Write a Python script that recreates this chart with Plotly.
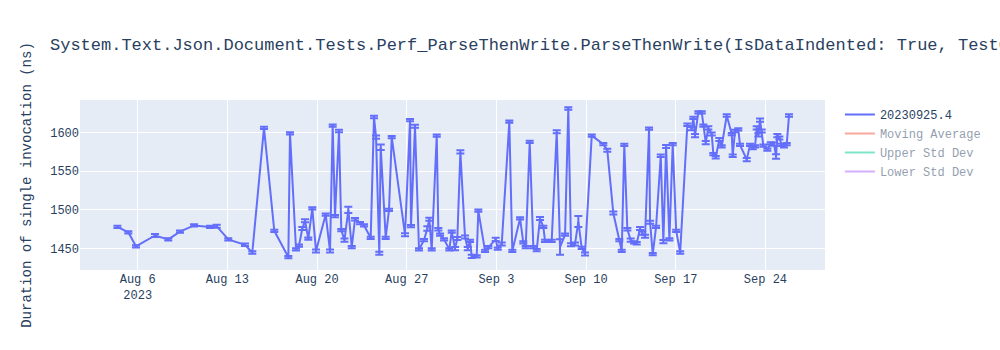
import pandas as pd
import plotly.graph_objects as go

# Benchmark run timestamps (one per measured commit)
run_times = [
    "2023-08-04 10:00", "2023-08-05 06:24", "2023-08-05 20:48", "2023-08-07 08:24", "2023-08-08 09:18",
    "2023-08-09 07:12", "2023-08-10 09:30", "2023-08-11 15:30", "2023-08-12 04:00", "2023-08-13 01:42",
    "2023-08-14 09:00", "2023-08-14 22:42", "2023-08-15 20:36", "2023-08-16 15:54", "2023-08-17 18:12",
    "2023-08-17 21:18", "2023-08-18 08:36", "2023-08-18 14:12", "2023-08-18 20:24", "2023-08-19 01:24",
    "2023-08-19 07:36", "2023-08-19 15:06", "2023-08-19 22:00", "2023-08-20 16:12", "2023-08-21 00:18",
    "2023-08-21 05:18", "2023-08-21 09:36", "2023-08-21 17:06", "2023-08-21 21:24", "2023-08-22 03:24",
    "2023-08-22 10:36", "2023-08-22 17:00", "2023-08-22 23:06", "2023-08-23 08:30", "2023-08-23 16:00",
    "2023-08-24 04:30", "2023-08-24 10:42", "2023-08-24 14:30", "2023-08-24 20:36", "2023-08-24 23:18",
    "2023-08-25 08:36", "2023-08-25 14:48", "2023-08-25 19:54", "2023-08-26 20:48", "2023-08-27 06:12",
    "2023-08-27 08:00", "2023-08-27 15:30", "2023-08-27 23:00", "2023-08-28 08:24", "2023-08-28 14:36",
    "2023-08-28 18:18", "2023-08-28 22:48", "2023-08-29 08:12", "2023-08-29 11:12", "2023-08-29 14:24",
    "2023-08-29 21:54", "2023-08-30 07:48", "2023-08-30 12:18", "2023-08-30 18:30", "2023-08-30 22:48",
    "2023-08-31 04:30", "2023-08-31 13:12", "2023-08-31 18:18", "2023-08-31 22:36", "2023-09-01 01:48",
    "2023-09-01 11:06", "2023-09-01 14:06", "2023-09-02 02:42", "2023-09-02 08:54", "2023-09-02 22:42",
    "2023-09-03 02:30", "2023-09-03 10:00", "2023-09-04 00:12", "2023-09-04 05:48", "2023-09-04 20:18",
    "2023-09-05 02:24", "2023-09-05 06:54", "2023-09-05 14:24", "2023-09-05 21:12", "2023-09-06 03:30",
    "2023-09-06 09:42", "2023-09-06 15:54", "2023-09-06 19:06", "2023-09-07 07:36", "2023-09-07 17:00",
    "2023-09-07 23:12", "2023-09-08 08:36", "2023-09-08 14:42", "2023-09-08 19:48", "2023-09-09 03:18",
    "2023-09-09 09:30", "2023-09-09 15:48", "2023-09-09 22:00", "2023-09-10 10:36", "2023-09-11 08:18",
    "2023-09-11 15:48", "2023-09-12 03:00", "2023-09-12 14:18", "2023-09-12 18:48", "2023-09-12 23:36",
    "2023-09-13 05:18", "2023-09-13 11:36", "2023-09-13 17:48", "2023-09-13 22:54", "2023-09-14 05:06",
    "2023-09-14 09:24", "2023-09-14 14:30", "2023-09-14 22:00", "2023-09-14 23:54", "2023-09-15 04:54",
    "2023-09-15 11:06", "2023-09-15 19:54", "2023-09-16 00:48", "2023-09-16 05:54", "2023-09-16 12:06",
    "2023-09-16 18:18", "2023-09-17 00:48", "2023-09-17 08:18", "2023-09-17 21:42", "2023-09-18 05:54",
    "2023-09-18 08:54", "2023-09-18 12:06", "2023-09-18 18:18", "2023-09-19 00:42", "2023-09-19 03:42",
    "2023-09-19 08:12", "2023-09-19 13:00", "2023-09-19 19:24", "2023-09-19 22:24", "2023-09-20 02:54",
    "2023-09-20 09:36", "2023-09-20 14:06", "2023-09-20 23:30", "2023-09-21 08:54", "2023-09-21 10:42",
    "2023-09-21 15:00", "2023-09-21 21:12", "2023-09-22 00:24", "2023-09-22 13:00", "2023-09-22 19:06",
    "2023-09-23 00:12", "2023-09-23 04:30", "2023-09-23 07:42", "2023-09-23 10:42", "2023-09-23 13:54",
    "2023-09-23 17:06", "2023-09-23 20:06", "2023-09-24 03:36", "2023-09-24 10:00", "2023-09-24 16:12",
    "2023-09-24 19:54", "2023-09-24 22:18", "2023-09-25 02:06", "2023-09-25 06:30", "2023-09-25 10:48",
    "2023-09-25 15:54", "2023-09-25 20:12",
]

# Mean duration of a single invocation, in nanoseconds
durations_ns = [
    1478, 1471, 1453, 1467, 1462, 1472, 1480, 1478, 1479, 1462,
    1455, 1445, 1606, 1473, 1439, 1599, 1449, 1454, 1476, 1486,
    1463, 1502, 1447, 1494, 1447, 1609, 1492, 1602, 1474, 1461,
    1500, 1452, 1488, 1483, 1480, 1464, 1620, 1594, 1444, 1581,
    1464, 1500, 1594, 1468, 1616, 1479, 1608, 1449, 1461, 1476,
    1488, 1449, 1596, 1475, 1468, 1462, 1449, 1472, 1450, 1463,
    1575, 1465, 1450, 1460, 1440, 1440, 1499, 1447, 1452, 1462,
    1450, 1456, 1614, 1447, 1489, 1458, 1452, 1588, 1452, 1448,
    1489, 1478, 1460, 1460, 1601, 1452, 1468, 1631, 1455, 1456,
    1485, 1451, 1443, 1596, 1585, 1577, 1496, 1461, 1447, 1584,
    1475, 1461, 1458, 1457, 1476, 1470, 1466, 1605, 1484, 1443,
    1478, 1570, 1459, 1582, 1462, 1585, 1473, 1445, 1610, 1605,
    1619, 1596, 1626, 1626, 1609, 1587, 1606, 1598, 1572, 1568,
    1591, 1582, 1622, 1598, 1570, 1602, 1604, 1584, 1565, 1584,
    1580, 1582, 1606, 1597, 1616, 1602, 1583, 1578, 1586, 1585,
    1569, 1596, 1593, 1584, 1582, 1585, 1622,
]

# Error (± ns) around each measurement
errors_ns = [
    1.5, 1.5, 1.5, 2, 1.5, 1.5, 1.5, 1.5, 2, 1.5,
    1.5, 1.5, 1.5, 1.5, 1.5, 1.5, 1.5, 1.5, 2, 2,
    1.5, 1.5, 2, 1.5, 2, 1.5, 1.5, 1.5, 1.5, 2,
    4, 1.5, 1.5, 1.5, 1.5, 1.5, 1.5, 2, 2, 3.5,
    1.5, 1.5, 1.5, 2, 1.5, 1.5, 2, 1.5, 1.5, 3,
    2, 1.5, 1.5, 1.5, 1.5, 1.5, 1.5, 1.5, 2, 2,
    2, 2, 2, 1.5, 2, 1.5, 1.5, 1.5, 1.5, 2,
    1.5, 2, 1.5, 1.5, 1.5, 1.5, 1.5, 1.5, 1.5, 1.5,
    2, 1.5, 1.5, 1.5, 2, 10, 1.5, 1.5, 2, 2,
    7, 1.5, 2, 1.5, 1.5, 2, 2, 1.5, 1.5, 1.5,
    1.5, 2, 1.5, 1.5, 2, 2, 2, 1.5, 2, 1.5,
    1.5, 1.5, 2, 2, 1.5, 1.5, 1.5, 1.5, 1.5, 2,
    1.5, 2, 1.5, 1.5, 1.5, 2, 2, 2, 1.5, 1.5,
    2, 1.5, 1.5, 1.5, 1.5, 1.5, 1.5, 1.5, 2, 1.5,
    1.5, 1.5, 2, 2, 2, 2, 1.5, 1.5, 1.5, 2,
    3, 2, 2, 1.5, 1.5, 1.5, 1.5,
]

build_name = "20230925.4"
chart_title = ("System.Text.Json.Document.Tests.Perf_ParseThenWrite.ParseThenWrite"
               "(IsDataIndented: True, TestCase: Json400KB)")

series = pd.Series(durations_ns, index=pd.to_datetime(run_times))
rolling = series.rolling(7, min_periods=1)
moving_avg = rolling.mean()
moving_std = rolling.std().fillna(0)

fig = go.Figure()
fig.add_trace(go.Scatter(
    x=run_times, y=durations_ns, mode="lines", name=build_name,
    error_y=dict(type="data", array=errors_ns, visible=True),
))
fig.add_trace(go.Scatter(x=run_times, y=moving_avg.values, mode="lines",
                         name="Moving Average", visible="legendonly"))
fig.add_trace(go.Scatter(x=run_times, y=(moving_avg + 2 * moving_std).values, mode="lines",
                         name="Upper Std Dev", visible="legendonly"))
fig.add_trace(go.Scatter(x=run_times, y=(moving_avg - 2 * moving_std).values, mode="lines",
                         name="Lower Std Dev", visible="legendonly"))

fig.update_layout(
    width=1000, height=350,
    font=dict(family="Courier New, Liberation Mono, monospace"),
    title=dict(text=chart_title),
    margin=dict(l=80, r=175, t=100, b=80),
    yaxis=dict(title=dict(text="Duration of single invocation (ns)"),
               range=[1422.4, 1642]),
    xaxis=dict(range=["2023-08-01 11:54", "2023-09-28 15:36"]),
)

fig.write_html("out.html")
